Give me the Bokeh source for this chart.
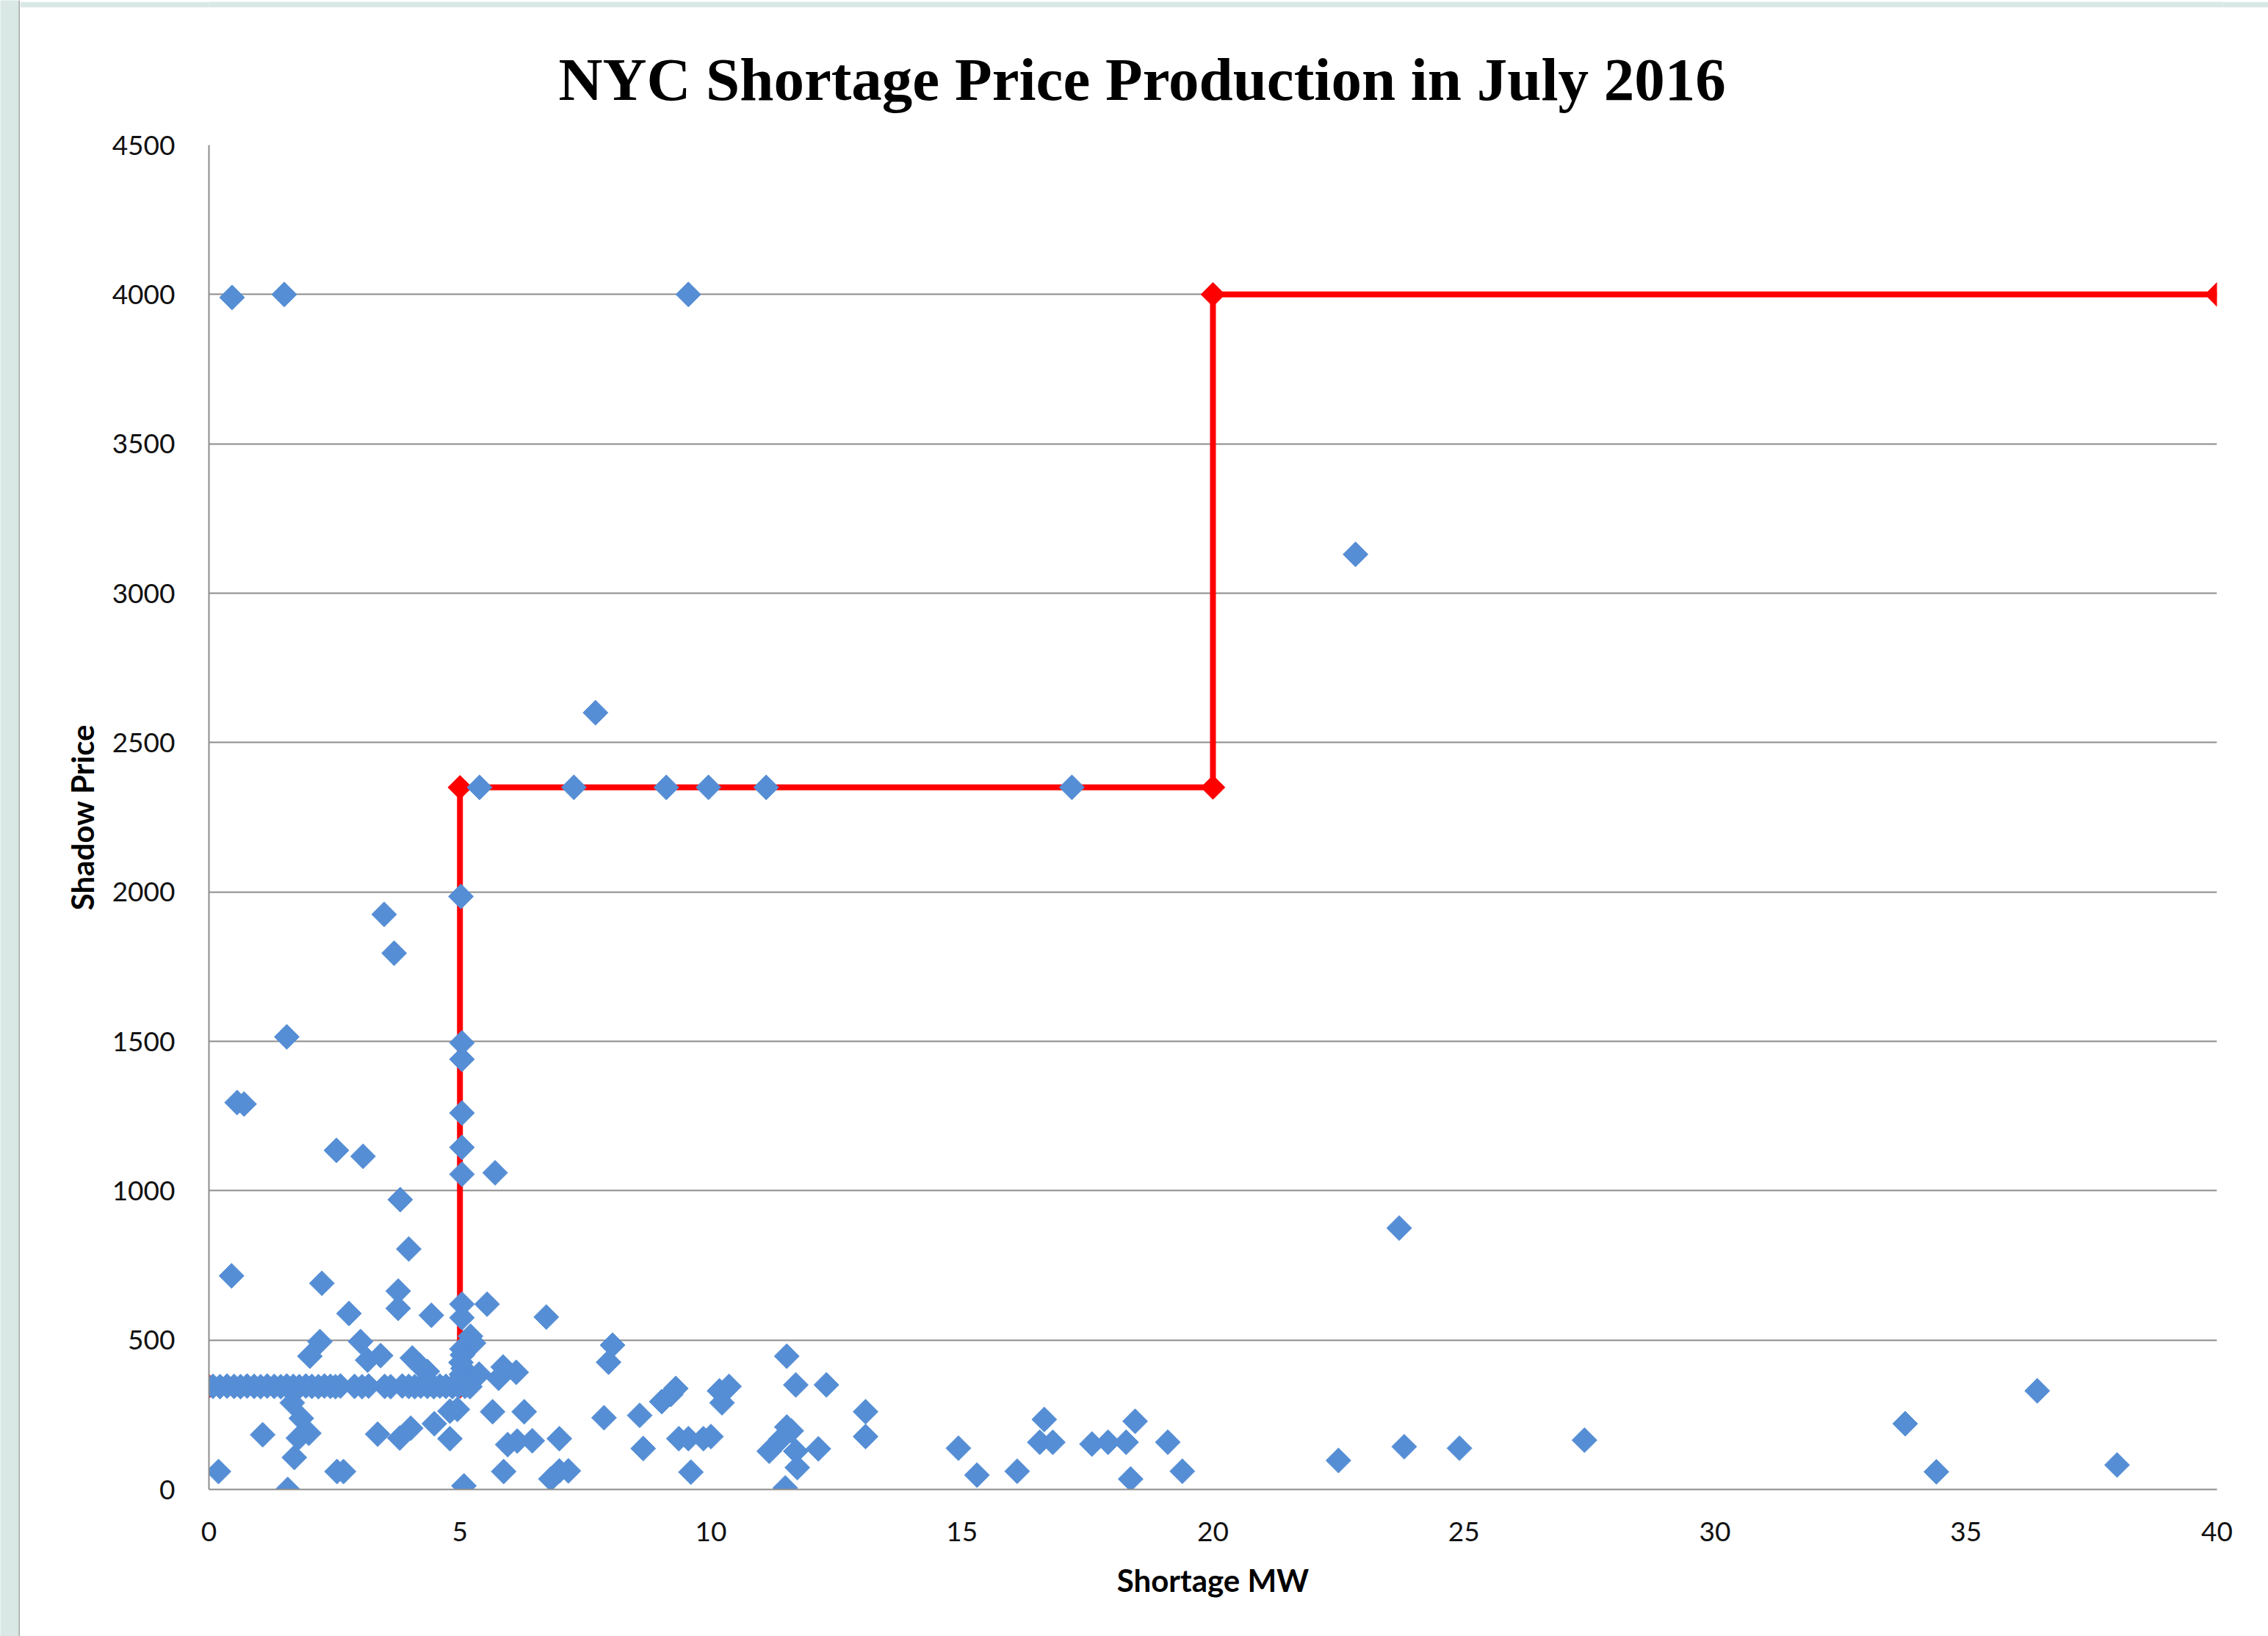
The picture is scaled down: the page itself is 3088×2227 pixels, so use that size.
import math
from bokeh.plotting import figure
from bokeh.layouts import row, column
from bokeh.models import Range1d, SingleIntervalTicker, ColumnDataSource, Title, Span
from bokeh.embed import file_html
from bokeh.resources import INLINE

# ---------------- data ----------------
title_text = "NYC Shortage Price Production in July 2016"
x_title = "Shortage MW"
y_title = "Shadow Price"

# observed shortage intervals (MW, $/MWh)
obs_mw = [
    0.46, 1.50, 9.55, 22.84, 7.70,
    5.39, 7.27, 9.11, 9.95, 11.10, 17.19,
    5.02, 3.49, 3.69, 1.55,
    5.04, 5.04, 5.04, 5.04, 5.04, 5.70,
    0.56, 0.70, 2.54, 3.07, 3.81, 3.98, 23.71,
    0.45, 2.25, 3.77, 3.77, 2.79, 4.43,
    5.04, 5.54, 5.04, 6.72,
    2.21, 2.01, 3.02, 3.16, 3.42, 4.05, 4.20, 4.35,
    5.21, 5.27, 5.04, 5.05, 5.02, 5.06, 5.03, 5.10,
    8.04, 7.96, 11.51,
    5.38, 5.86, 6.12, 5.77,
    11.69, 12.30,
    9.02, 9.20, 9.30, 10.17, 10.36, 10.22,
    0.08, 0.22, 0.36, 0.50, 0.63, 0.76, 0.90, 1.03, 1.16, 1.30, 1.43, 1.55,
    1.68, 1.80, 1.93, 2.05, 2.18, 2.30, 2.42, 2.52, 2.62, 2.90, 3.05, 3.18,
    3.50, 3.62, 3.85, 3.98, 4.10, 4.22, 4.35, 4.48, 4.60, 4.72, 4.85, 4.97,
    5.10, 5.20,
    13.08, 13.08,
    1.66, 1.84, 1.99, 1.78, 1.07, 1.70, 0.19, 2.55, 2.68, 1.57,
    3.36, 3.80, 4.02, 4.49, 4.80, 4.80, 4.95, 5.08,
    5.65, 6.28, 5.95, 6.14, 6.44, 6.98, 5.87,
    6.81, 6.98, 7.16, 7.87, 8.58, 8.65,
    9.36, 9.55, 9.85, 10.00, 9.60,
    11.16, 11.39, 11.51, 11.60, 11.69, 11.72, 12.14, 11.48,
    14.93, 15.30, 16.10, 16.64, 16.55, 16.81, 17.59, 17.91, 18.27, 18.45,
    18.36, 19.10, 19.39,
    22.50, 23.81, 24.91, 27.40, 33.79, 34.41, 36.42, 38.01,
]
obs_price = [
    3990, 4000, 4000, 3130, 2600,
    2350, 2350, 2350, 2350, 2350, 2350,
    1985, 1925, 1795, 1515,
    1495, 1440, 1260, 1145, 1055, 1060,
    1295, 1290, 1135, 1115, 970, 805, 875,
    715, 690, 664, 606, 589, 583,
    620, 620, 575, 577,
    495, 446, 495, 433, 448, 440, 415, 395,
    513, 490, 470, 450, 425, 405, 385, 365,
    483, 426, 446,
    386, 410, 392, 372,
    350, 350,
    294, 318, 338, 330, 345, 290,
    345, 344, 346, 345, 344, 346, 345, 344, 346, 345, 344, 346,
    345, 344, 346, 345, 344, 346, 345, 344, 346, 345, 344, 346,
    345, 344, 346, 345, 344, 346, 345, 344, 346, 345, 344, 346,
    345, 344,
    260, 177,
    290, 238, 188, 172, 183, 107, 60, 60, 60, 0,
    185, 172, 205, 220, 170, 262, 268, 12,
    260, 260, 150, 162, 163, 170, 60,
    35, 62, 62, 240, 248, 137,
    170, 170, 170, 177, 58,
    128, 168, 209, 196, 128, 73, 136, 5,
    138, 48, 61, 234, 158, 158, 152, 158, 158, 228,
    35, 158, 61,
    97, 143, 138, 165, 220, 59, 330, 82,
]

# shortage pricing curve (MW, $/MWh)
curve_mw = [0, 5, 5, 20, 20, 40]
curve_price = [345, 345, 2350, 2350, 4000, 4000]

x_ticks = [0, 5, 10, 15, 20, 25, 30, 35, 40]
y_ticks = [0, 500, 1000, 1500, 2000, 2500, 3000, 3500, 4000, 4500]

# ---------------- styling ----------------
TEAL = "#d9e8e5"
BLUE = "#558ed5"
RED = "#ff0000"
GRID = "#8c8c8c"
EDGE = "#a8a8a8"
STRIP_W = 27
STRIP_H = 10


def strip(w, h, edge_dim, edge_loc):
    s = figure(width=w, height=h, output_backend="svg", toolbar_location=None,
               x_range=Range1d(0, 1), y_range=Range1d(0, 1),
               min_border=0, min_border_left=0, min_border_right=0,
               min_border_top=0, min_border_bottom=0)
    s.axis.visible = False
    s.grid.visible = False
    s.outline_line_color = None
    s.border_fill_color = TEAL
    s.background_fill_color = TEAL
    s.add_layout(Span(location=edge_loc, dimension=edge_dim,
                      line_color=EDGE, line_width=4))
    return s


p = figure(
    frame_width=2734, frame_height=1830,
    min_border_left=284 - STRIP_W, min_border_right=62,
    min_border_top=197 - STRIP_H, min_border_bottom=192,
    x_range=Range1d(x_ticks[0], x_ticks[-1]),
    y_range=Range1d(y_ticks[0], y_ticks[-1]),
    output_backend="svg", toolbar_location=None,
)
p.border_fill_color = "white"
p.background_fill_color = "white"
p.outline_line_color = None

p.title = Title(text=title_text, align="left", offset=476, standoff=88,
                text_font="Liberation Serif", text_font_style="bold",
                text_font_size="83px", text_color="#000000")

p.xgrid.visible = False
p.ygrid.grid_line_color = GRID
p.ygrid.grid_line_width = 2

p.xaxis.ticker = SingleIntervalTicker(interval=5)
p.yaxis.ticker = SingleIntervalTicker(interval=500)

for ax in (p.xaxis, p.yaxis):
    ax.axis_line_color = GRID
    ax.axis_line_width = 2
    ax.major_tick_out = 0
    ax.major_tick_in = 0
    ax.minor_tick_out = 0
    ax.minor_tick_in = 0
    ax.major_label_text_font = "Lato"
    ax.major_label_text_font_size = "37px"
    ax.major_label_text_color = "#111111"
    ax.axis_label_text_font = "Lato"
    ax.axis_label_text_font_style = "bold"
    ax.axis_label_text_font_size = "42px"
    ax.axis_label_text_color = "#000000"

p.xaxis.axis_label = x_title
p.yaxis.axis_label = y_title
p.xaxis.major_label_standoff = 44
p.yaxis.major_label_standoff = 46
p.xaxis.axis_label_standoff = 25
p.yaxis.axis_label_standoff = 13

# pricing curve (drawn under the observations)
p.line(curve_mw, curve_price, line_color=RED, line_width=8)
p.scatter(curve_mw, curve_price, marker="square", angle=math.pi / 4,
          size=23, fill_color=RED, line_color=RED, line_width=1)

# observations
src = ColumnDataSource(dict(mw=obs_mw, price=obs_price))
p.scatter("mw", "price", source=src, marker="square", angle=math.pi / 4,
          size=24, fill_color=BLUE, line_color=BLUE, line_width=1)

layout = row(strip(STRIP_W, 2227, "height", 1),
             column(strip(3061, STRIP_H, "width", 0), p))

open("out.html", "w").write(file_html(layout, INLINE))
